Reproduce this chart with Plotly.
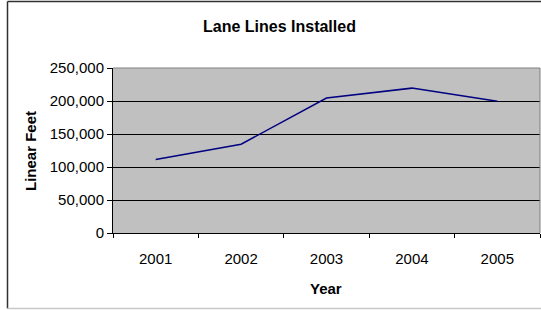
import plotly.graph_objects as go

years = ["2001", "2002", "2003", "2004", "2005"]
linear_feet = [111500, 134500, 204500, 219500, 199500]
y_ticks = [0, 50000, 100000, 150000, 200000, 250000]
y_tick_labels = ["0", "50,000", "100,000", "150,000", "200,000", "250,000"]

FONT = "Liberation Sans, Arial, sans-serif"

fig = go.Figure()
fig.add_trace(go.Scatter(
    x=years, y=linear_feet, mode="lines",
    line=dict(color="#000080", width=1.5),
    hoverinfo="x+y", showlegend=False,
))

W, H = 541, 310
L, R, T, B = 113, 1, 68, 77
pw, ph = W - L - R, H - T - B

def px(x):
    return (x - L) / pw

def py(y):
    return (H - B - y) / ph

fig.update_layout(
    width=W, height=H,
    margin=dict(l=L, r=R, t=T, b=B, pad=0),
    paper_bgcolor="white",
    plot_bgcolor="#C0C0C0",
    font=dict(family=FONT, size=15, color="black"),
    xaxis=dict(
        type="category", tickson="boundaries", range=[-0.5, 4.5],
        ticks="outside", ticklen=4, tickcolor="black", tickwidth=1,
        showline=True, linecolor="black", linewidth=1,
        showgrid=False, zeroline=False,
        ticklabelstandoff=12,
        tickfont=dict(family=FONT, size=15),
    ),
    yaxis=dict(
        range=[0, 250000], tickvals=y_ticks, ticktext=y_tick_labels,
        ticks="outside", ticklen=5, tickcolor="black", tickwidth=1,
        showline=True, linecolor="black", linewidth=1,
        showgrid=True, gridcolor="black", gridwidth=1,
        zeroline=False,
        tickfont=dict(family=FONT, size=15),
    ),
    annotations=[
        dict(text="<b>Lane Lines Installed</b>", xref="paper", yref="paper",
             x=px(279), y=py(27), xanchor="center", yanchor="middle",
             showarrow=False, font=dict(family=FONT, size=16)),
        dict(text="<b>Linear Feet</b>", xref="paper", yref="paper",
             x=px(30), y=py(151), xanchor="center", yanchor="middle",
             textangle=-90, showarrow=False, font=dict(family=FONT, size=15)),
        dict(text="<b>Year</b>", xref="paper", yref="paper",
             x=px(326), y=py(288), xanchor="center", yanchor="middle",
             showarrow=False, font=dict(family=FONT, size=15)),
    ],
    shapes=[
        # plot area top/right border (gray)
        dict(type="line", xref="paper", yref="paper", x0=0, x1=1, y0=1, y1=1,
             line=dict(color="#808080", width=1)),
        dict(type="line", xref="paper", yref="paper", x0=1, x1=1, y0=0, y1=1,
             line=dict(color="#808080", width=1)),
        # outer chart frame
        dict(type="line", xref="paper", yref="paper", x0=px(7.5), x1=px(7.5),
             y0=py(1.5), y1=py(308.5), line=dict(color="#303030", width=1.5)),
        dict(type="line", xref="paper", yref="paper", x0=px(7.5), x1=px(545),
             y0=py(1.5), y1=py(1.5), line=dict(color="#303030", width=1.5)),
        dict(type="line", xref="paper", yref="paper", x0=px(7.5), x1=px(545),
             y0=py(308.5), y1=py(308.5), line=dict(color="#C8C8C8", width=1.5)),
    ],
)

fig.write_html("out.html", config={"displayModeBar": False},
               post_script="document.body.style.margin='0px';")
